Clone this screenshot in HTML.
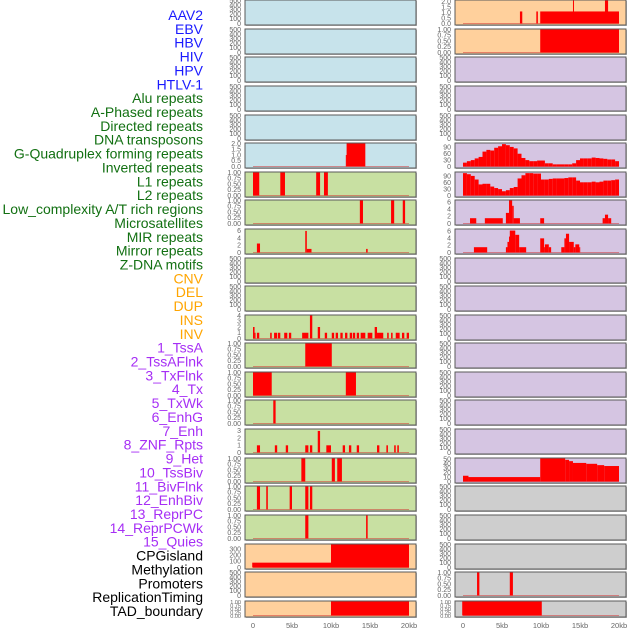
<!DOCTYPE html>
<html><head><meta charset="utf-8">
<style>
html,body{margin:0;padding:0;background:#fff;}
svg{display:block;font-family:"Liberation Sans",sans-serif;}
</style></head>
<body>
<svg id="chart" width="630" height="630" xmlns="http://www.w3.org/2000/svg"></svg>
<script>
const labels = ["AAV2","EBV","HBV","HIV","HPV","HTLV-1","Alu repeats","A-Phased repeats","Directed repeats","DNA transposons","G-Quadruplex forming repeats","Inverted repeats","L1 repeats","L2 repeats","Low_complexity A/T rich regions","Microsatellites","MIR repeats","Mirror repeats","Z-DNA motifs","CNV","DEL","DUP","INS","INV","1_TssA","2_TssAFlnk","3_TxFlnk","4_Tx","5_TxWk","6_EnhG","7_Enh","8_ZNF_Rpts","9_Het","10_TssBiv","11_BivFlnk","12_EnhBiv","13_ReprPC","14_ReprPCWk","15_Quies","CPGisland","Methylation","Promoters","ReplicationTiming","TAD_boundary"];
const labelGroups = [6,13,5,15,5];
const xTicks = [0,5,10,15,20];
const xTickLabels = ["0","5kb","10kb","15kb","20kb"];

const leftGQuad = [[11.9,12.0,1],[12.0,14.4,2]];
const leftL1 = [[0,0.8,1],[3.5,4.1,1],[8.1,8.6,1],[9.1,9.6,1]];
const leftLowCx = [[13.7,14.1,1],[17.7,18.1,1],[19.2,19.5,1]];
const leftMicro = [[0.5,0.9,2.5],[6.7,6.9,6],[6.9,7.5,1],[14.5,14.7,1]];
const leftMir = [[0,0.2,2],[0.2,0.3,1],[0.5,0.8,1],[2.2,2.4,1],[2.7,3.1,1],[3.2,3.5,1],[4.0,4.4,1],[4.6,4.9,1],[6.3,7.1,1],[7.3,7.6,4],[8.3,8.6,2],[9.2,9.5,1],[10.1,10.4,1],[10.6,10.9,1],[11.2,11.5,1],[11.8,12.1,1],[12.4,12.7,1],[12.8,13.1,1],[13.3,13.6,1],[13.8,14.4,1],[14.7,15.3,1],[15.6,15.9,2],[15.9,16.7,1],[17.2,17.4,1],[17.7,17.9,1],[18.3,18.8,1],[19.1,19.4,1],[19.7,20,1]];
const leftTssA = [[6.7,10.1,1]];
const leftTssAFlnk = [[0,2.4,1],[11.9,13.2,1]];
const leftTxFlnk = [[2.6,2.9,1]];
const leftTx = [[0.5,0.9,1],[2.8,3.1,1],[4.2,4.5,1],[6.7,7.1,1],[7.3,7.6,1],[8.3,8.6,3],[9.4,10.0,1],[11.5,11.8,1],[12.3,12.6,1],[13.3,13.6,1],[15.9,16.2,1],[17.1,17.3,1],[18.1,18.3,1],[18.5,18.7,1]];
const leftTxWk = [[6.2,6.7,1],[10.1,10.5,1],[10.8,11.4,1]];
const leftEnhG = [[0.5,0.9,1],[1.7,1.9,1],[4.7,5.0,1],[6.7,7.1,1],[7.3,7.6,1]];
const leftEnh = [[6.7,7.1,1],[14.5,14.7,1]];
const leftCpg = [[-0.1,10,80],[10,20,380]];
const leftTad = [[10,20,1]];

const rightAav2 = [[7.3,7.6,1.1],[9.4,9.6,1.1],[9.9,20,1.1],[14.1,14.2,2.1],[18.2,18.6,2.1]];
const rightEbv = [[9.9,20,1]];
const rightGQuadSteps = [18,25,30,38,45,70,78,75,88,95,105,100,92,85,60,40,30,25,25,28,28,15,15,10,10,10,10,10,15,30,38,38,38,42,40,38,36,33,33,25];
const rightInvSteps = [105,100,92,75,52,55,55,42,35,30,20,25,35,40,80,95,105,105,103,103,75,75,78,80,80,80,82,85,85,70,62,62,62,65,62,65,70,70,72,75];
const rightLowCx = [[0.9,1.7,1.5],[2.8,5.1,1.5],[5.5,5.9,3],[5.9,6.3,6.5],[6.3,6.5,5],[6.5,7.3,1.5],[9.9,10.4,1.5],[17.9,18.2,1.5],[18.2,18.6,2.5],[18.6,19.0,1.5]];
const rightMicro = [[1.4,3.1,1.5],[5.5,5.7,1.5],[5.7,5.9,3],[5.9,6.0,4.5],[6.0,6.7,6.2],[6.7,7.2,5],[7.2,8.1,1.5],[9.9,10.4,4],[10.4,10.5,1.5],[10.5,11.0,2.3],[11.0,11.3,1.5],[12.6,13.0,1.5],[13.0,13.2,4],[13.2,13.6,5.3],[13.6,14.2,3],[14.2,14.4,1.5],[14.4,14.9,2.3],[14.9,15.0,1.5]];
const rightHet = [[0,0.7,13],[0.7,9.9,10],[9.9,13.1,52],[13.1,13.6,49],[13.6,14.1,46],[14.1,15.8,42],[15.8,17.2,40],[17.2,18.1,37],[18.1,20,35]];
const rightPromoters = [[1.8,2.1,1],[6.0,6.4,1]];
const rightTad = [[-0.1,10.1,1]];

const rowTops = [0,29,57,86,115,143,172,200,229,258,286,315,343,372,400,429,458,486,515,544,572,601];
const T500 = {ticks:[0,100,200,300,400,500],lab:["0","100","200","300","400","500"],max:500};
const T1 = {ticks:[0,.25,.5,.75,1],lab:["0.00","0.25","0.50","0.75","1.00"],max:1};
function steps(arr){const out=[];arr.forEach((v,i)=>out.push([i*0.5,i*0.5+0.5,v]));return out;}

const leftPanels = [
 {bg:"#c7e3eb",t:T500},{bg:"#c7e3eb",t:T500},{bg:"#c7e3eb",t:T500},{bg:"#c7e3eb",t:T500},{bg:"#c7e3eb",t:T500},
 {bg:"#c7e3eb",t:{ticks:[0,.5,1,1.5,2],lab:["0.0","0.5","1.0","1.5","2.0"],max:2},d:leftGQuad},
 {bg:"#c8e0a2",t:T1,d:leftL1},{bg:"#c8e0a2",t:T1,d:leftLowCx},
 {bg:"#c8e0a2",t:{ticks:[0,2,4,6],lab:["0","2","4","6"],max:6.4},d:leftMicro},
 {bg:"#c8e0a2",t:T500},{bg:"#c8e0a2",t:T500},
 {bg:"#c8e0a2",t:{ticks:[0,1,2,3,4],lab:["0","1","2","3","4"],max:4},d:leftMir},
 {bg:"#c8e0a2",t:T1,d:leftTssA},{bg:"#c8e0a2",t:T1,d:leftTssAFlnk},{bg:"#c8e0a2",t:T1,d:leftTxFlnk},
 {bg:"#c8e0a2",t:{ticks:[0,1,2,3],lab:["0","1","2","3"],max:3.2},d:leftTx},
 {bg:"#c8e0a2",t:T1,d:leftTxWk},{bg:"#c8e0a2",t:T1,d:leftEnhG},{bg:"#c8e0a2",t:T1,d:leftEnh},
 {bg:"#ffd09c",t:{ticks:[0,100,200,300],lab:["0","100","200","300"],max:380},d:leftCpg},
 {bg:"#ffd09c",t:T500,nobase:true},
 {bg:"#ffd09c",t:T1,d:leftTad}
];
const rightPanels = [
 {bg:"#ffd09c",t:{ticks:[0,.5,1,1.5,2],lab:["0.0","0.5","1.0","1.5","2.0"],max:2.1},d:rightAav2},
 {bg:"#ffd09c",t:T1,d:rightEbv},
 {bg:"#d5c5e2",t:T500},{bg:"#d5c5e2",t:T500},{bg:"#d5c5e2",t:T500},
 {bg:"#d5c5e2",t:{ticks:[0,30,60,90],lab:["0","30","60","90"],max:108},d:steps(rightGQuadSteps)},
 {bg:"#d5c5e2",t:{ticks:[0,30,60,90],lab:["0","30","60","90"],max:108},d:steps(rightInvSteps)},
 {bg:"#d5c5e2",t:{ticks:[0,2,4,6],lab:["0","2","4","6"],max:6.5},d:rightLowCx},
 {bg:"#d5c5e2",t:{ticks:[0,2,4,6],lab:["0","2","4","6"],max:6.5},d:rightMicro},
 {bg:"#d5c5e2",t:T500},{bg:"#d5c5e2",t:T500},{bg:"#d5c5e2",t:T500},{bg:"#d5c5e2",t:T500},{bg:"#d5c5e2",t:T500},{bg:"#d5c5e2",t:T500},{bg:"#d5c5e2",t:T500},
 {bg:"#d5c5e2",t:{ticks:[0,10,20,30,40,50],lab:["0","10","20","30","40","50"],max:52},d:rightHet},
 {bg:"#cecece",t:T500},{bg:"#cecece",t:T500},{bg:"#cecece",t:T500},
 {bg:"#cecece",t:T1,d:rightPromoters},
 {bg:"#cecece",t:T1,d:rightTad}
];

const NS="http://www.w3.org/2000/svg";
const svg=document.getElementById("chart");
function mk(tag,attrs,parent){const e=document.createElementNS(NS,tag);for(const k in attrs)e.setAttribute(k,attrs[k]);(parent||svg).appendChild(e);return e;}

const colors=["#1a1aff","#127012","#ffa500","#a62ef5","#000000"];
let gi=0,cnt=0;
const lblTop=15, lblBottom=611;
const step=(lblBottom-lblTop)/(labels.length-1);
labels.forEach((s,i)=>{
  while(cnt>=labelGroups[gi]){gi++;cnt=0;}
  cnt++;
  const t=mk("text",{x:203,y:lblTop+i*step+5,"text-anchor":"end","font-size":"14",fill:colors[gi]});
  t.textContent=s;
  
  
});

function drawColumn(panels,x0,x1,zeroX,colName){
  const pxPerKb=156/20;
  const xs=kb=>zeroX+kb*pxPerKb;
  panels.forEach((p,i)=>{
    const top=rowTops[i];
    const h=(i===21)?16:25;
    const g=mk("g",{});
    
    
    mk("rect",{x:x0+1,y:top+1,width:x1-x0,height:h,fill:"#bbb"},g);
    mk("rect",{x:x0,y:top,width:x1-x0,height:h,fill:p.bg,stroke:"#5a5a5a","stroke-width":1},g);
    const yb=top+h-1.5, yt=top+0.5;
    const ys=v=>yb-(v/p.t.max)*(yb-yt);
    p.t.ticks.forEach((tv,k)=>{
      const t=mk("text",{x:x0-4,y:ys(tv)+2.3,"text-anchor":"end","font-size":(i===21?"5.5":"7"),fill:"#666"},g);
      t.textContent=p.t.lab[k];
      
      
    });
    if(p.d){
      if(!p.nobase){
        const bl=mk("line",{x1:xs(0),x2:xs(20),y1:yb,y2:yb,stroke:"#d03030","stroke-width":1,opacity:0.5},g);
        
        
      }
      p.d.forEach(s=>{
        const r=mk("rect",{x:xs(s[0]),y:ys(Math.min(s[2],p.t.max)),width:Math.max(1,xs(s[1])-xs(s[0])),height:yb-ys(Math.min(s[2],p.t.max)),fill:"#ff0000"},g);
        
        
      });
    }
  });
  xTicks.forEach((kb,k)=>{
    const t=mk("text",{x:xs(kb),y:628,"text-anchor":"middle","font-size":"7.5",fill:"#666"});
    t.textContent=xTickLabels[k];
    
    
  });
}
drawColumn(leftPanels,245,416,253,"left");
drawColumn(rightPanels,455,626,463,"right");
</script>
</body></html>
